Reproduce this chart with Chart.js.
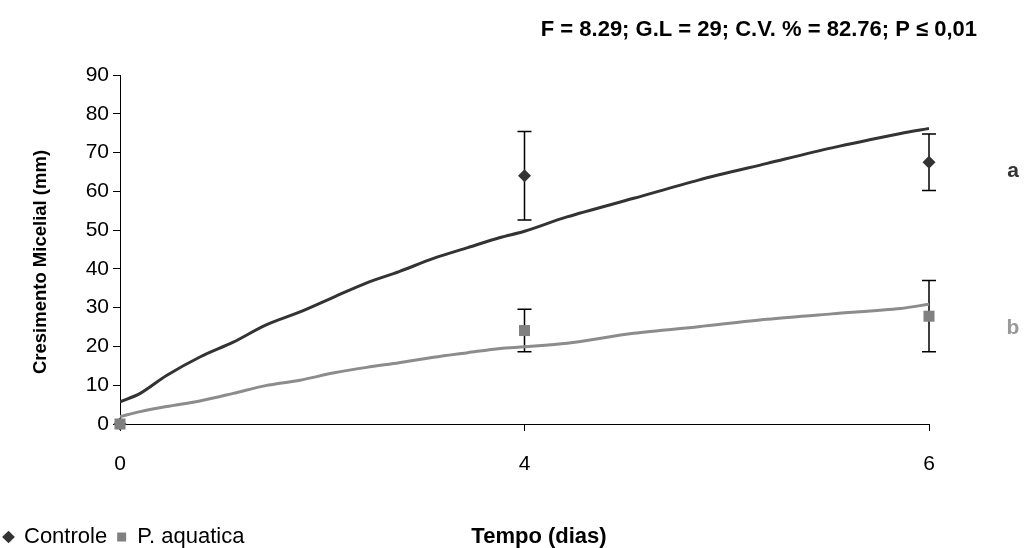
<!DOCTYPE html>
<html>
<head>
<meta charset="utf-8">
<script src="https://cdn.jsdelivr.net/npm/chart.js@4/dist/chart.umd.min.js"></script>
<style>
  html, body { margin: 0; padding: 0; background: #fff; }
  #wrap { width: 1026px; height: 548px; }
</style>
</head>
<body>
<div id="wrap"><canvas id="chart"></canvas></div>
<script>
// categories on the x axis (evenly spaced, like an Excel line chart)
const xLabels = ['0', '4', '6']

// observed means and standard deviations
const controle = [0, 64.0, 67.5]
const controleErr = [0, 11.4, 7.3]
const aquatica = [0, 24.1, 27.8]
const aquaticaErr = [0, 5.5, 9.2]

// trend lines (x = category position)
const trendX = [0, 0.05, 0.115, 0.2, 0.28, 0.36, 0.445, 0.53, 0.61, 0.69, 0.775, 0.86, 0.94, 1.0, 1.105, 1.27, 1.43, 1.6, 1.76, 1.93, 2.0]
const controleTrend = [5.7, 7.9, 12.5, 17.4, 21.1, 25.5, 28.9, 32.8, 36.4, 39.3, 42.7, 45.5, 48.1, 49.7, 53.4, 58.2, 62.9, 67.2, 71.2, 74.9, 76.2]
const aquaticaTrend = [1.9, 3.2, 4.5, 6.0, 7.9, 9.9, 11.3, 13.2, 14.6, 15.8, 17.2, 18.4, 19.5, 19.9, 20.8, 23.4, 25.1, 27.0, 28.4, 29.8, 30.9]

// significance letters and where they sit
const letters = ['a', 'b']
const letterY = [65.2, 24.8]

const statsText = 'F = 8.29; G.L = 29; C.V. % = 82.76; P \u2264 0,01'
const xTitle = 'Tempo (dias)'
const yTitle = 'Cresimento Micelial (mm)'

const FONT = '"Liberation Sans", Arial, sans-serif'
const DARK = '#333333'
const GRAY = '#808080'

const toPoints = (xs, ys) => ys.map((y, i) => ({ x: xs[i], y }))
const idx = controle.map((_, i) => i)

const errorBars = {
  id: 'errorBars',
  beforeDatasetsDraw(chart) {
    const { ctx, scales: { x, y } } = chart
    const sets = [[controle, controleErr], [aquatica, aquaticaErr]]
    ctx.save()
    ctx.strokeStyle = '#000'
    ctx.lineWidth = 1.5
    sets.forEach(([vals, errs]) => {
      vals.forEach((v, i) => {
        if (!errs[i]) return
        const px = x.getPixelForValue(i)
        const top = y.getPixelForValue(v + errs[i])
        const bot = y.getPixelForValue(v - errs[i])
        ctx.beginPath()
        ctx.moveTo(px, top); ctx.lineTo(px, bot)
        ctx.moveTo(px - 7, top); ctx.lineTo(px + 7, top)
        ctx.moveTo(px - 7, bot); ctx.lineTo(px + 7, bot)
        ctx.stroke()
      })
    })
    ctx.restore()
  }
}

const extraText = {
  id: 'extraText',
  afterDraw(chart) {
    const { ctx, scales: { y } } = chart
    ctx.save()
    ctx.textBaseline = 'middle'
    ctx.fillStyle = '#000'
    ctx.font = 'bold 22px ' + FONT
    ctx.textAlign = 'right'
    ctx.fillText(statsText, 977, 30)

    ctx.font = 'bold 21px ' + FONT
    ctx.textAlign = 'center'
    letters.forEach((l, i) => {
      ctx.fillStyle = i === 0 ? DARK : '#999999'
      ctx.fillText(l, 1013, y.getPixelForValue(letterY[i]))
    })

    const lg = chart.legend
    ctx.fillStyle = '#000'
    ctx.font = 'bold 22px ' + FONT
    ctx.fillText(xTitle, 539, (lg.top + lg.bottom) / 2)

    // y axis title
    ctx.translate(41, 262)
    ctx.rotate(-Math.PI / 2)
    ctx.font = 'bold 18.5px ' + FONT
    ctx.fillText(yTitle, 0, 0)
    ctx.restore()
  }
}

new Chart(document.getElementById('chart'), {
  type: 'scatter',
  data: {
    datasets: [{
      label: 'Controle',
      data: toPoints(idx, controle),
      pointStyle: 'rectRot',
      pointRadius: 6.5,
      pointHoverRadius: 6.5,
      backgroundColor: DARK,
      borderColor: DARK,
      borderWidth: 0,
      clip: false,
      order: 1
    }, {
      label: 'P. aquatica',
      data: toPoints(idx, aquatica),
      pointStyle: 'rect',
      pointRadius: 7.8,
      pointHoverRadius: 7.8,
      backgroundColor: GRAY,
      borderColor: GRAY,
      borderWidth: 0,
      clip: false,
      order: 0
    }, {
      label: 'trend controle',
      data: toPoints(trendX, controleTrend),
      showLine: true,
      pointRadius: 0,
      borderColor: DARK,
      borderWidth: 3,
      tension: 0.3,
      order: 3
    }, {
      label: 'trend aquatica',
      data: toPoints(trendX, aquaticaTrend),
      showLine: true,
      pointRadius: 0,
      borderColor: '#8c8c8c',
      borderWidth: 3,
      tension: 0.3,
      order: 2
    }]
  },
  options: {
    responsive: true,
    maintainAspectRatio: false,
    animation: false,
    layout: { padding: { top: 75, right: 97, left: -6, bottom: -10 } },
    plugins: {
      tooltip: { enabled: false },
      legend: {
        position: 'bottom',
        align: 'start',
        labels: {
          usePointStyle: true,
          boxWidth: 9,
          boxHeight: 9,
          padding: 10,
          color: '#000',
          font: { family: FONT, size: 22, lineHeight: 1 },
          filter: item => item.datasetIndex < 2,
          sort: (a, b) => a.datasetIndex - b.datasetIndex
        }
      }
    },
    scales: {
      x: {
        type: 'linear',
        min: 0,
        max: 2,
        afterFit: s => { s.height = 92 },
        grid: { display: true, drawOnChartArea: false, drawTicks: true, tickLength: 7, color: '#000' },
        border: { display: true, color: '#000', width: 1 },
        ticks: {
          stepSize: 1,
          padding: 21,
          color: '#000',
          font: { family: FONT, size: 21 },
          callback: v => xLabels[v]
        }
      },
      y: {
        min: 0,
        max: 90,
        afterFit: s => { s.width = 126 },
        grid: { display: true, drawOnChartArea: false, drawTicks: true, tickLength: 7, color: '#000' },
        border: { display: true, color: '#000', width: 1 },
        ticks: {
          stepSize: 10,
          padding: 4,
          color: '#000',
          font: { family: FONT, size: 21 }
        }
      }
    }
  },
  plugins: [errorBars, extraText]
})
</script>
</body>
</html>
